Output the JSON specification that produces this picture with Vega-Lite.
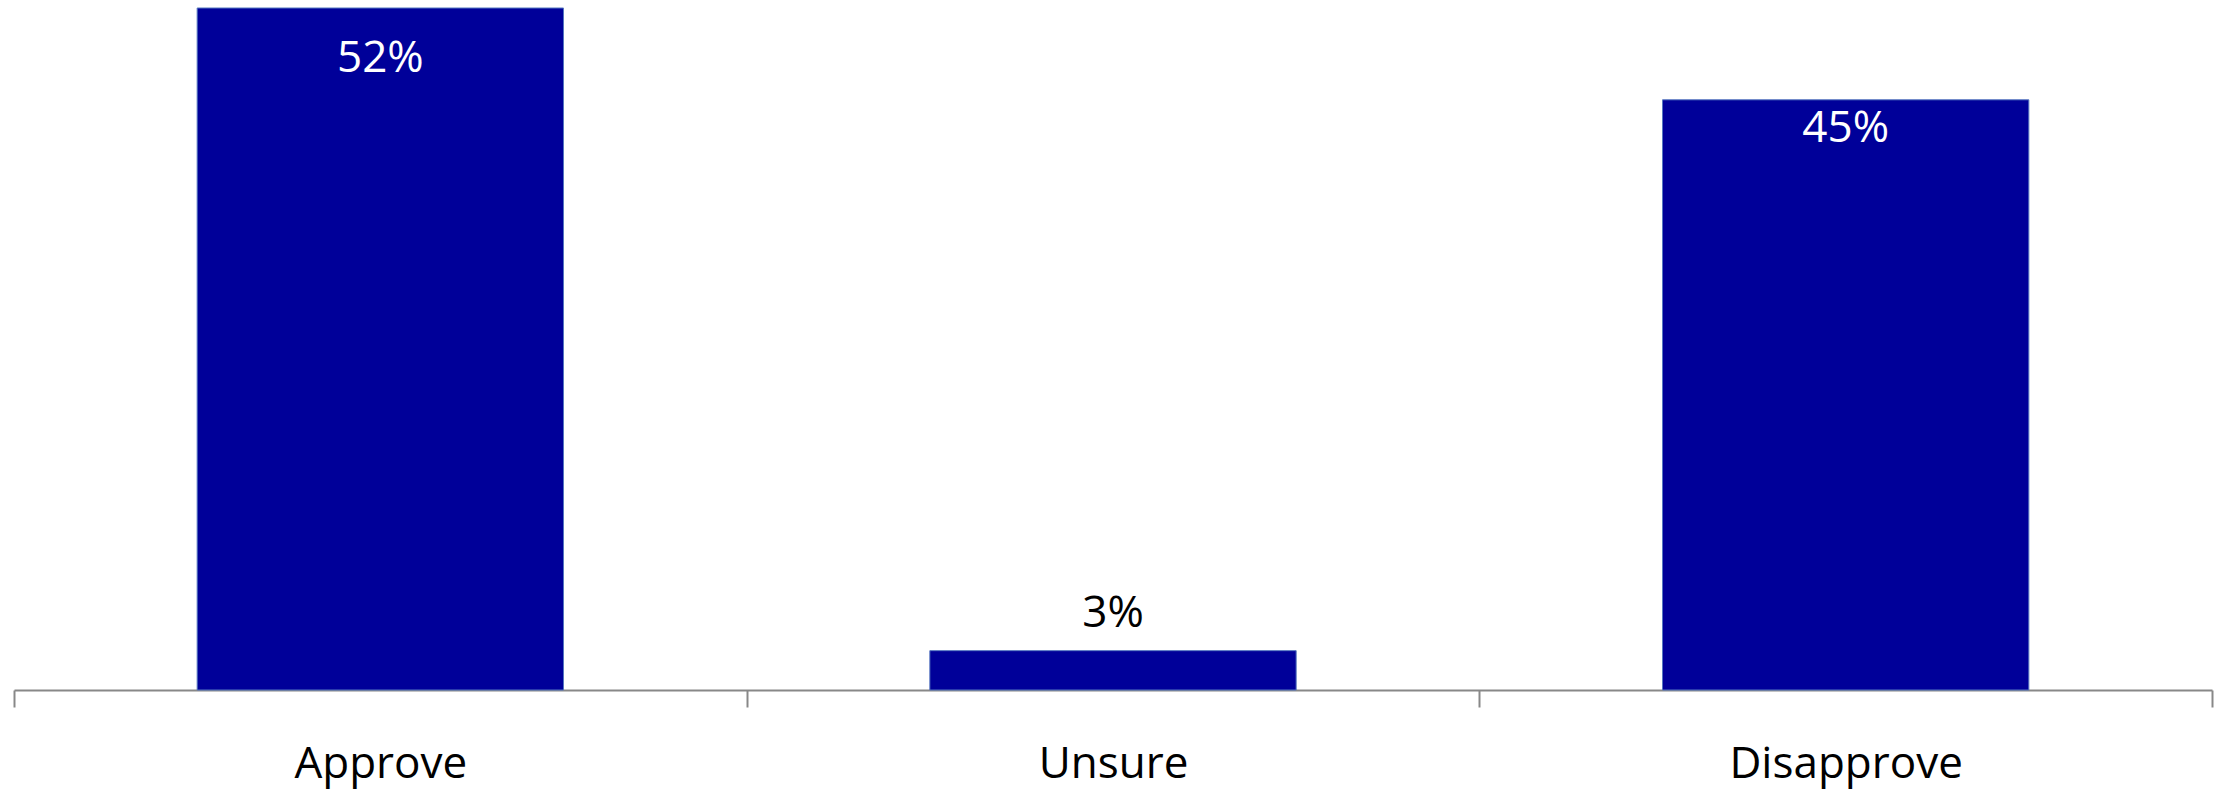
{
  "$schema": "https://vega.github.io/schema/vega-lite/v6.json",
  "width": 2198,
  "height": 682,
  "autosize": {"type": "none"},
  "padding": {"left": 14, "top": 8, "right": 12, "bottom": 100},
  "background": "white",
  "config": {"view": {"stroke": null}, "font": "Open Sans"},
  "data": {"values": [
    {"category": "Approve", "value": 0.52},
    {"category": "Unsure", "value": 0.03},
    {"category": "Disapprove", "value": 0.45}
  ]},
  "encoding": {
    "x": {"field": "category", "type": "nominal", "sort": null,
      "scale": {"paddingInner": 0, "paddingOuter": 0},
      "axis": {"title": null, "labelAngle": 0, "tickBand": "extent", "domainColor": "#888888", "domainWidth": 2,
        "tickColor": "#888888", "tickWidth": 2, "tickSize": 17, "labelFontSize": 44, "labelColor": "#000000",
        "labelBaseline": "alphabetic", "labelPadding": 70, "labelFont": "Open Sans", "labelLimit": 0}},
    "y": {"field": "value", "type": "quantitative", "scale": {"domain": [0, 0.52], "nice": false}, "axis": null}
  },
  "layer": [
    {"mark": {"type": "bar", "width": {"band": 0.5}, "color": "#000099", "stroke": "#5577c0", "strokeWidth": 1}},
    {"transform": [{"filter": "datum.value >= 0.5"}],
      "mark": {"type": "text", "baseline": "alphabetic", "dy": 64, "fontSize": 44, "color": "white"},
      "encoding": {"text": {"field": "value", "type": "quantitative", "format": ".0%"}}},
    {"transform": [{"filter": "datum.value >= 0.1 && datum.value < 0.5"}],
      "mark": {"type": "text", "baseline": "alphabetic", "dy": 42, "fontSize": 44, "color": "white"},
      "encoding": {"text": {"field": "value", "type": "quantitative", "format": ".0%"}}},
    {"transform": [{"filter": "datum.value < 0.1"}],
      "mark": {"type": "text", "baseline": "alphabetic", "dy": -24, "fontSize": 44, "color": "black"},
      "encoding": {"text": {"field": "value", "type": "quantitative", "format": ".0%"}}}
  ]
}
